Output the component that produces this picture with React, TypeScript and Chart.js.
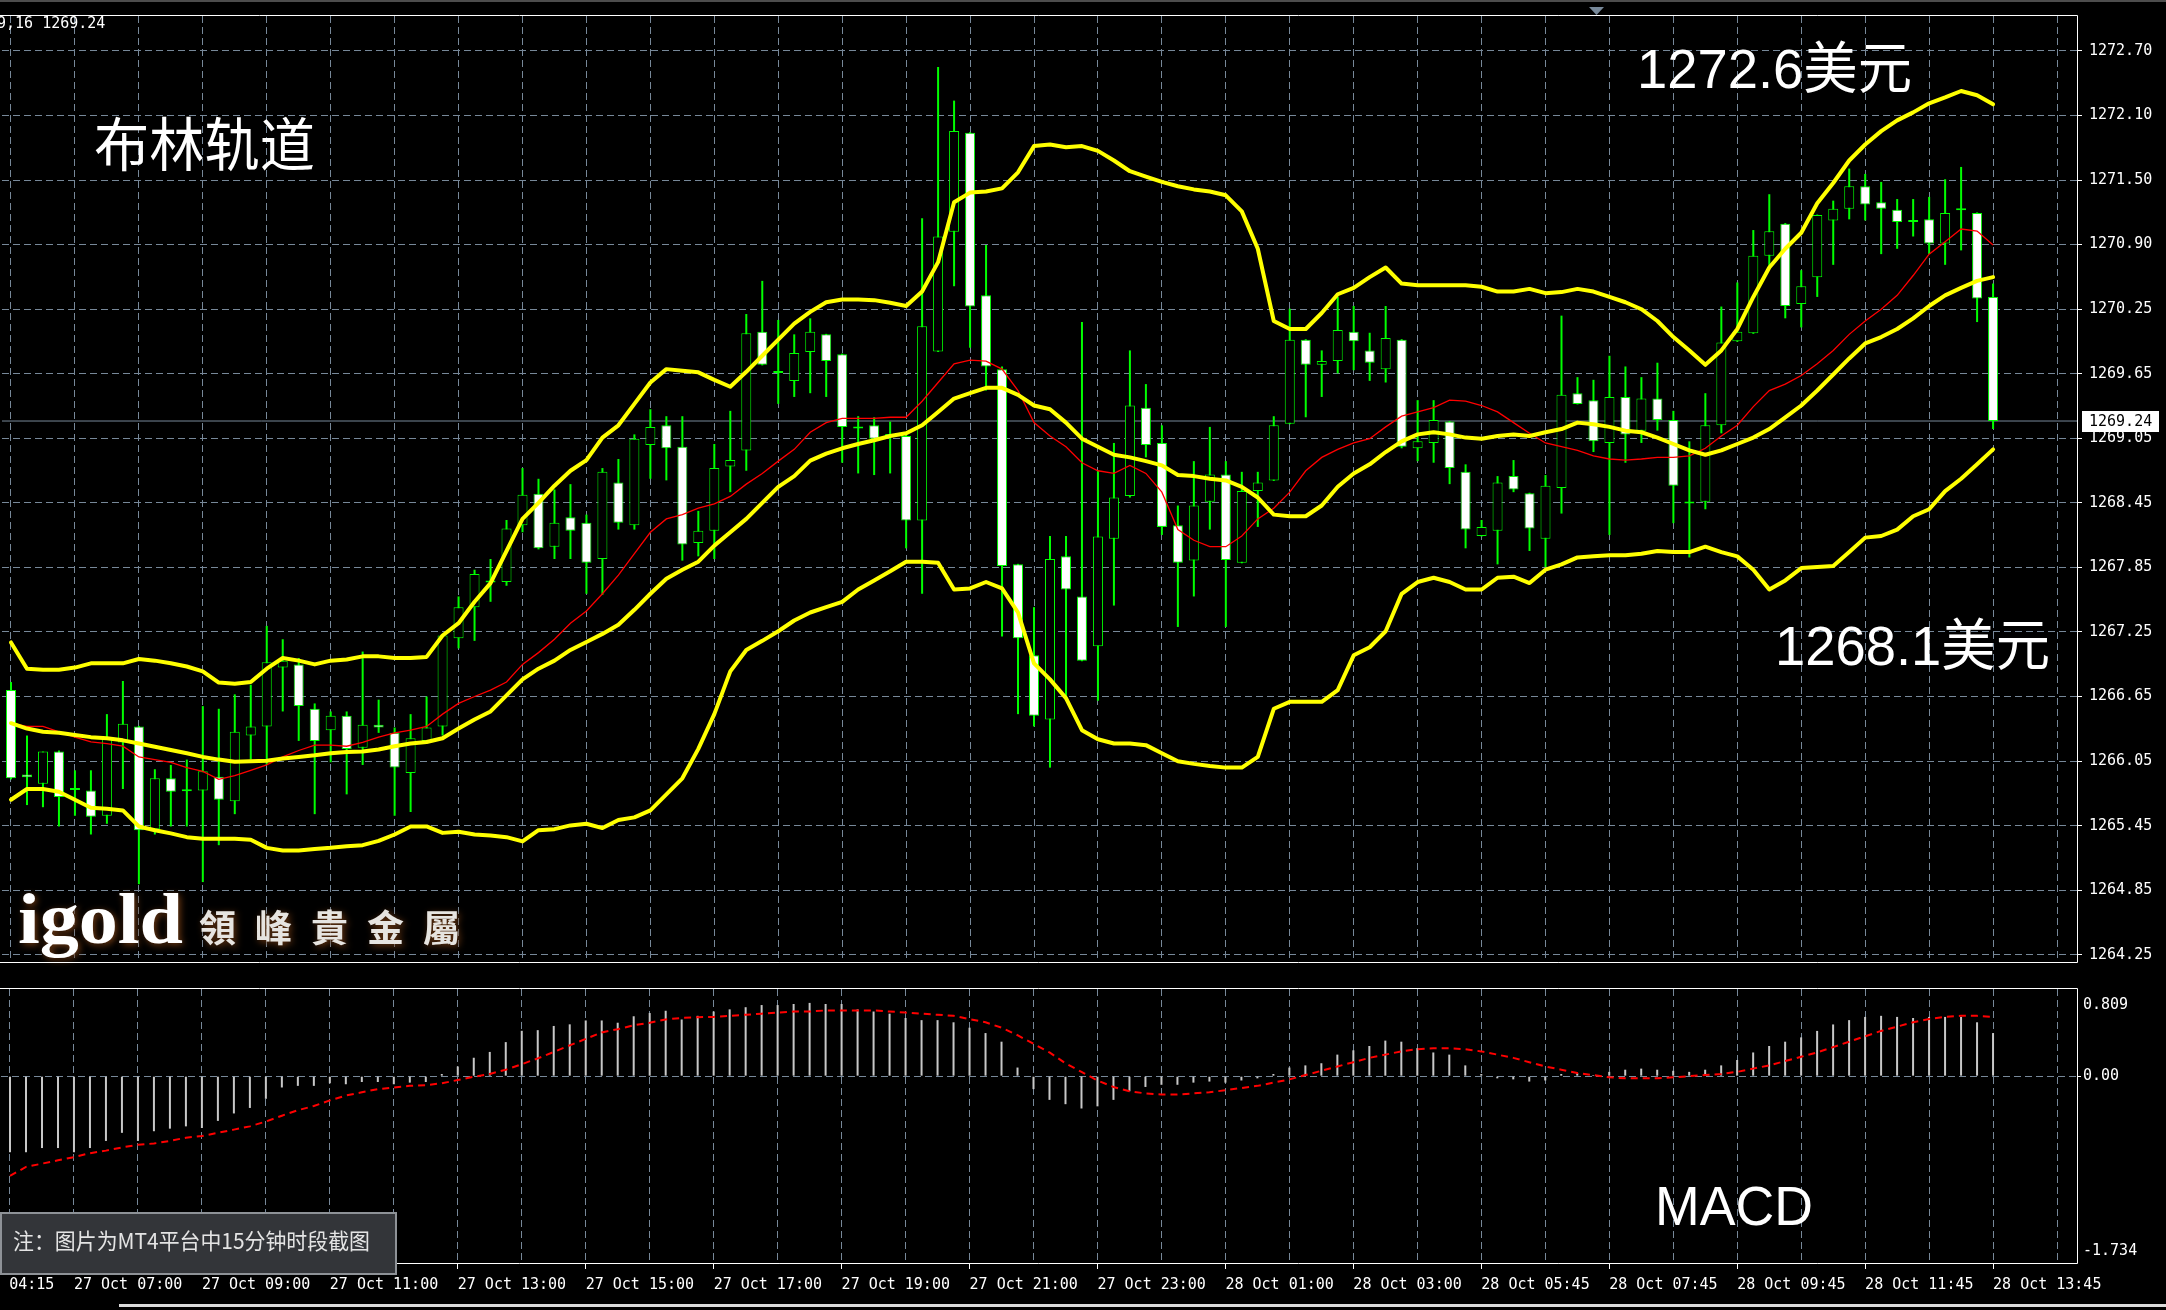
import React, { useEffect, useRef } from "react";
import { Chart, registerables } from "chart.js";

Chart.register(...registerables);

// ---------------- data (15-minute bars, left to right) ----------------
const OPEN = [
  1266.725, 1265.935, 1265.85, 1266.15, 1265.79, 1265.785, 1265.55, 1266.235, 1266.385, 1265.425,
  1265.90, 1265.785, 1265.785, 1265.915, 1265.685, 1266.30, 1266.385, 1266.935, 1266.965, 1266.55,
  1266.35, 1266.485, 1266.185, 1266.40, 1266.325, 1265.95, 1266.25, 1266.385, 1267.21, 1267.50,
  1267.73, 1267.735, 1268.265, 1268.56, 1268.065, 1268.34, 1268.29, 1267.95, 1268.665, 1268.265,
  1269.015, 1269.20, 1269.00, 1268.10, 1268.215, 1268.815, 1268.965, 1270.075, 1269.70, 1269.615,
  1269.885, 1270.05, 1269.865, 1269.17, 1269.20, 1269.10, 1269.10, 1268.31, 1269.89, 1271.01,
  1271.935, 1270.415, 1269.725, 1267.90, 1267.05, 1266.45, 1267.975, 1267.60, 1267.135, 1268.14,
  1268.54, 1269.365, 1269.035, 1268.265, 1267.935, 1268.485, 1268.74, 1267.915, 1268.585, 1268.685,
  1269.215, 1270.00, 1269.765, 1269.80, 1270.075, 1269.90, 1269.725, 1270.00, 1268.985, 1269.035,
  1269.235, 1268.765, 1268.165, 1268.215, 1268.725, 1268.565, 1268.14, 1268.615, 1269.50, 1269.435,
  1269.035, 1269.465, 1269.15, 1269.45, 1269.25, 1268.47, 1268.485, 1269.20, 1269.985, 1270.06,
  1270.785, 1271.085, 1270.335, 1270.585, 1271.115, 1271.225, 1271.435, 1271.285, 1271.215, 1271.10,
  1271.125, 1270.90, 1271.21, 1271.185, 1270.40,
];
const HIGH = [
  1266.80, 1266.30, 1266.15, 1266.16, 1265.975, 1265.975, 1266.50, 1266.81, 1266.39, 1265.985,
  1266.025, 1266.075, 1266.575, 1266.55, 1266.685, 1266.775, 1267.325, 1267.20, 1267.025, 1266.60,
  1266.525, 1266.525, 1267.085, 1266.635, 1266.375, 1266.50, 1266.665, 1267.25, 1267.60, 1267.85,
  1267.95, 1268.315, 1268.80, 1268.70, 1268.60, 1268.65, 1268.365, 1268.80, 1268.885, 1269.115,
  1269.35, 1269.285, 1269.285, 1268.40, 1269.025, 1269.335, 1270.24, 1270.55, 1270.185, 1270.05,
  1270.20, 1270.055, 1269.87, 1269.285, 1269.275, 1269.235, 1269.135, 1271.135, 1272.55, 1272.235,
  1271.94, 1270.885, 1269.75, 1267.905, 1267.50, 1268.165, 1268.165, 1270.165, 1268.775, 1269.035,
  1269.90, 1269.585, 1269.20, 1268.45, 1268.865, 1269.185, 1268.865, 1268.765, 1268.765, 1269.285,
  1270.29, 1270.005, 1269.90, 1270.40, 1270.315, 1270.065, 1270.315, 1270.005, 1269.435, 1269.435,
  1269.24, 1268.835, 1268.315, 1268.725, 1268.875, 1268.57, 1268.735, 1270.225, 1269.65, 1269.625,
  1269.85, 1269.75, 1269.65, 1269.785, 1269.335, 1269.05, 1269.50, 1270.31, 1270.535, 1271.025,
  1271.36, 1271.09, 1270.65, 1271.17, 1271.30, 1271.60, 1271.55, 1271.475, 1271.315, 1271.315,
  1271.335, 1271.50, 1271.615, 1271.19, 1270.525,
];
const LOW = [
  1265.89, 1265.65, 1265.63, 1265.45, 1265.55, 1265.375, 1265.475, 1265.80, 1264.91, 1265.375,
  1265.45, 1265.45, 1264.93, 1265.275, 1265.565, 1266.075, 1266.025, 1266.525, 1266.25, 1265.565,
  1266.05, 1265.75, 1266.025, 1266.325, 1265.55, 1265.585, 1266.24, 1266.30, 1267.115, 1267.185,
  1267.55, 1267.70, 1268.20, 1268.04, 1267.95, 1267.95, 1267.625, 1267.615, 1268.225, 1268.225,
  1268.70, 1268.685, 1267.935, 1267.975, 1267.95, 1268.575, 1268.775, 1269.76, 1269.40, 1269.465,
  1269.50, 1269.465, 1268.85, 1268.75, 1268.735, 1268.75, 1268.05, 1267.625, 1269.885, 1270.50,
  1269.925, 1269.525, 1267.225, 1266.50, 1266.385, 1266.00, 1266.65, 1266.995, 1266.625, 1267.515,
  1268.525, 1268.90, 1268.175, 1267.315, 1267.60, 1268.225, 1267.315, 1267.91, 1268.25, 1268.68,
  1269.21, 1269.275, 1269.465, 1269.685, 1269.715, 1269.615, 1269.60, 1268.985, 1268.865, 1268.85,
  1268.65, 1268.05, 1268.16, 1267.90, 1268.575, 1268.025, 1267.875, 1268.375, 1269.395, 1268.95,
  1268.175, 1268.85, 1269.035, 1269.15, 1268.285, 1267.965, 1268.415, 1269.125, 1269.98, 1270.055,
  1270.665, 1270.20, 1270.115, 1270.40, 1270.70, 1271.125, 1271.115, 1270.80, 1270.85, 1270.965,
  1270.80, 1270.70, 1270.835, 1270.165, 1269.165,
];
const CLOSE = [
  1265.90, 1265.91, 1266.15, 1265.725, 1265.80, 1265.54, 1266.285, 1266.41, 1265.415, 1265.90,
  1265.775, 1265.78, 1265.965, 1265.70, 1266.335, 1266.385, 1266.985, 1267.00, 1266.575, 1266.25,
  1266.485, 1266.175, 1266.40, 1266.375, 1266.00, 1266.275, 1266.375, 1267.235, 1267.50, 1267.81,
  1267.74, 1268.235, 1268.55, 1268.05, 1268.29, 1268.215, 1267.915, 1268.765, 1268.29, 1269.075,
  1269.185, 1268.985, 1268.085, 1268.215, 1268.80, 1268.875, 1270.06, 1269.765, 1269.69, 1269.875,
  1270.075, 1269.80, 1269.185, 1269.18, 1269.075, 1269.105, 1268.31, 1270.125, 1270.965, 1271.95,
  1270.31, 1269.75, 1267.885, 1267.21, 1266.485, 1267.95, 1267.665, 1267.00, 1268.16, 1268.525,
  1269.385, 1269.015, 1268.25, 1267.915, 1268.45, 1268.74, 1267.94, 1268.585, 1268.665, 1269.20,
  1270.00, 1269.765, 1269.80, 1270.09, 1269.985, 1269.785, 1270.015, 1269.00, 1269.05, 1269.25,
  1268.80, 1268.225, 1268.25, 1268.665, 1268.60, 1268.235, 1268.635, 1269.485, 1269.40, 1269.05,
  1269.465, 1269.115, 1269.45, 1269.25, 1268.635, 1268.48, 1269.20, 1269.975, 1270.075, 1270.785,
  1271.015, 1270.315, 1270.50, 1271.165, 1271.225, 1271.435, 1271.265, 1271.225, 1271.10, 1271.105,
  1270.90, 1271.185, 1271.215, 1270.385, 1269.24,
];
const BB_UPPER = [
  1267.17, 1266.925, 1266.915, 1266.915, 1266.935, 1266.975, 1266.975, 1266.975, 1267.015, 1267.0,
  1266.975, 1266.945, 1266.90, 1266.795, 1266.785, 1266.80, 1266.925, 1267.025, 1267.0, 1266.965,
  1267.0, 1267.01, 1267.04, 1267.04, 1267.025, 1267.025, 1267.035, 1267.235, 1267.35, 1267.55,
  1267.725, 1268.025, 1268.325, 1268.475, 1268.635, 1268.775, 1268.875, 1269.085, 1269.20, 1269.40,
  1269.60, 1269.725, 1269.71, 1269.695, 1269.625, 1269.56, 1269.70, 1269.85, 1270.0, 1270.15,
  1270.26, 1270.35, 1270.375, 1270.375, 1270.37, 1270.345, 1270.315, 1270.45, 1270.725, 1271.285,
  1271.375, 1271.385, 1271.415, 1271.565, 1271.81, 1271.825, 1271.80, 1271.81, 1271.765, 1271.675,
  1271.575, 1271.525, 1271.475, 1271.435, 1271.405, 1271.385, 1271.35, 1271.20, 1270.85, 1270.175,
  1270.10, 1270.10, 1270.25, 1270.425, 1270.485, 1270.585, 1270.675, 1270.525, 1270.51, 1270.51,
  1270.51, 1270.51, 1270.495, 1270.45, 1270.45, 1270.475, 1270.435, 1270.445, 1270.475, 1270.45,
  1270.40, 1270.35, 1270.285, 1270.175, 1270.025, 1269.90, 1269.765, 1269.90, 1270.10, 1270.40,
  1270.675, 1270.85, 1271.0, 1271.275, 1271.465, 1271.675, 1271.825, 1271.95, 1272.05, 1272.125,
  1272.21, 1272.265, 1272.325, 1272.285, 1272.20,
];
const BB_MIDDLE = [
  1266.415, 1266.365, 1266.335, 1266.325, 1266.305, 1266.285, 1266.275, 1266.255, 1266.225, 1266.195,
  1266.165, 1266.135, 1266.10, 1266.075, 1266.055, 1266.06, 1266.065, 1266.085, 1266.10, 1266.115,
  1266.135, 1266.145, 1266.15, 1266.17, 1266.20, 1266.225, 1266.24, 1266.275, 1266.365, 1266.45,
  1266.525, 1266.675, 1266.825, 1266.925, 1267.0, 1267.10, 1267.175, 1267.25, 1267.335, 1267.475,
  1267.625, 1267.765, 1267.85, 1267.925, 1268.075, 1268.20, 1268.325, 1268.475, 1268.625, 1268.725,
  1268.87, 1268.935, 1268.985, 1269.025, 1269.06, 1269.10, 1269.125, 1269.20, 1269.325, 1269.45,
  1269.50, 1269.55, 1269.55, 1269.485, 1269.385, 1269.35, 1269.225, 1269.075, 1269.0, 1268.925,
  1268.90, 1268.865, 1268.825, 1268.735, 1268.725, 1268.70, 1268.685, 1268.625, 1268.525, 1268.365,
  1268.35, 1268.35, 1268.45, 1268.625, 1268.75, 1268.835, 1268.95, 1269.05, 1269.115, 1269.135,
  1269.115, 1269.085, 1269.075, 1269.10, 1269.115, 1269.10, 1269.135, 1269.165, 1269.225, 1269.21,
  1269.185, 1269.15, 1269.135, 1269.085, 1269.025, 1268.965, 1268.925, 1268.965, 1269.025, 1269.085,
  1269.165, 1269.275, 1269.385, 1269.525, 1269.675, 1269.825, 1269.965, 1270.025, 1270.10, 1270.20,
  1270.315, 1270.415, 1270.485, 1270.55, 1270.585,
];
const BB_LOWER = [
  1265.70, 1265.80, 1265.80, 1265.775, 1265.70, 1265.625, 1265.615, 1265.60, 1265.45, 1265.415,
  1265.385, 1265.35, 1265.335, 1265.335, 1265.335, 1265.325, 1265.25, 1265.225, 1265.225, 1265.24,
  1265.25, 1265.265, 1265.275, 1265.315, 1265.375, 1265.45, 1265.45, 1265.39, 1265.40, 1265.375,
  1265.365, 1265.35, 1265.31, 1265.415, 1265.425, 1265.46, 1265.475, 1265.435, 1265.51, 1265.535,
  1265.60, 1265.75, 1265.90, 1266.175, 1266.50, 1266.90, 1267.10, 1267.185, 1267.275, 1267.375,
  1267.45, 1267.50, 1267.55, 1267.665, 1267.75, 1267.835, 1267.925, 1267.925, 1267.915, 1267.665,
  1267.675, 1267.735, 1267.675, 1267.45, 1266.975, 1266.825, 1266.65, 1266.35, 1266.265, 1266.225,
  1266.225, 1266.21, 1266.135, 1266.06, 1266.035, 1266.015, 1266.0, 1266.0, 1266.10, 1266.55,
  1266.615, 1266.615, 1266.615, 1266.725, 1267.05, 1267.125, 1267.275, 1267.625, 1267.735, 1267.775,
  1267.735, 1267.665, 1267.665, 1267.775, 1267.785, 1267.725, 1267.85, 1267.90, 1267.965, 1267.975,
  1267.985, 1267.985, 1268.0, 1268.025, 1268.015, 1268.015, 1268.065, 1268.015, 1267.975, 1267.85,
  1267.665, 1267.75, 1267.865, 1267.875, 1267.885, 1268.015, 1268.15, 1268.165, 1268.225, 1268.35,
  1268.415, 1268.585, 1268.70, 1268.835, 1268.975,
];
const MA_RED = [
  1266.415, 1266.385, 1266.385, 1266.335, 1266.285, 1266.24, 1266.225, 1266.20, 1266.10, 1266.075,
  1266.05, 1266.0, 1265.965, 1265.89, 1265.925, 1265.975, 1266.025, 1266.10, 1266.16, 1266.21,
  1266.21, 1266.20, 1266.235, 1266.285, 1266.325, 1266.35, 1266.385, 1266.50, 1266.60, 1266.665,
  1266.725, 1266.80, 1266.965, 1267.075, 1267.20, 1267.35, 1267.465, 1267.625, 1267.80, 1268.0,
  1268.20, 1268.325, 1268.365, 1268.425, 1268.465, 1268.535, 1268.65, 1268.75, 1268.865, 1268.975,
  1269.135, 1269.225, 1269.265, 1269.265, 1269.265, 1269.275, 1269.275, 1269.425, 1269.60, 1269.775,
  1269.81, 1269.80, 1269.725, 1269.525, 1269.225, 1269.10, 1269.0, 1268.85, 1268.775, 1268.75,
  1268.825, 1268.75, 1268.575, 1268.225, 1268.125, 1268.065, 1268.065, 1268.165, 1268.325, 1268.425,
  1268.575, 1268.775, 1268.90, 1268.975, 1269.035, 1269.075, 1269.185, 1269.285, 1269.325, 1269.365,
  1269.435, 1269.425, 1269.385, 1269.325, 1269.225, 1269.125, 1269.035, 1269.0, 1268.965, 1268.915,
  1268.885, 1268.875, 1268.885, 1268.90, 1268.90, 1268.915, 1268.985, 1269.10, 1269.20, 1269.375,
  1269.525, 1269.585, 1269.665, 1269.775, 1269.90, 1270.05, 1270.175, 1270.285, 1270.415, 1270.60,
  1270.80, 1270.915, 1271.035, 1271.015, 1270.885,
];
const MACD_HIST = [
  -0.706, -0.706, -0.667, -0.667, -0.706, -0.667, -0.601, -0.526, -0.601, -0.511,
  -0.487, -0.466, -0.481, -0.415, -0.346, -0.295, -0.21, -0.105, -0.09, -0.09,
  -0.066, -0.075, -0.054, -0.054, -0.075, -0.06, -0.054, 0.02, 0.09, 0.171,
  0.225, 0.316, 0.421, 0.427, 0.466, 0.481, 0.517, 0.517, 0.496, 0.556,
  0.586, 0.607, 0.526, 0.56, 0.6, 0.62, 0.64, 0.66, 0.66, 0.67,
  0.68, 0.67, 0.67, 0.62, 0.6, 0.58, 0.54, 0.52, 0.52, 0.5,
  0.45, 0.4, 0.32, 0.08, -0.12, -0.22, -0.26, -0.3, -0.28, -0.22,
  -0.14, -0.1, -0.08, -0.08, -0.06, -0.05, -0.06, -0.04, -0.02, 0.02,
  0.08, 0.1, 0.12, 0.2, 0.24, 0.28, 0.33, 0.32, 0.26, 0.22,
  0.2, 0.1, 0.02, -0.02, -0.03, -0.05, -0.04, 0.02, 0.03, 0.01,
  0.04, 0.06, 0.07, 0.06, 0.05, 0.04, 0.06, 0.1, 0.15, 0.22,
  0.28, 0.32, 0.36, 0.42, 0.48, 0.52, 0.55, 0.56, 0.55, 0.54,
  0.55, 0.55, 0.55, 0.5, 0.4,
];
const MACD_SIGNAL = [
  -0.926, -0.842, -0.812, -0.781, -0.751, -0.715, -0.691, -0.661, -0.637, -0.625,
  -0.601, -0.571, -0.556, -0.526, -0.496, -0.466, -0.421, -0.367, -0.316, -0.277,
  -0.225, -0.18, -0.15, -0.12, -0.105, -0.09, -0.084, -0.066, -0.036, -0.006,
  0.021, 0.06, 0.111, 0.165, 0.225, 0.286, 0.346, 0.406, 0.436, 0.472,
  0.496, 0.526, 0.541, 0.547, 0.55, 0.56, 0.57, 0.58, 0.59, 0.6,
  0.6, 0.61, 0.61, 0.61, 0.61, 0.6, 0.59, 0.58, 0.57, 0.56,
  0.53, 0.5, 0.45, 0.38, 0.3, 0.22, 0.12, 0.04, -0.04, -0.1,
  -0.14, -0.16, -0.17, -0.17, -0.16, -0.15, -0.13, -0.11, -0.09, -0.06,
  -0.03, 0.01, 0.05, 0.09, 0.13, 0.17, 0.2, 0.23, 0.25, 0.26,
  0.26, 0.25, 0.23, 0.2, 0.17, 0.13, 0.09, 0.06, 0.03, 0.01,
  -0.01, -0.02, -0.02, -0.02, -0.01, 0.0, 0.01, 0.02, 0.04, 0.07,
  0.1, 0.14, 0.18, 0.22, 0.27, 0.32, 0.37, 0.42, 0.46, 0.5,
  0.53, 0.55, 0.56, 0.56, 0.55,
];
const PRICE_TICK_LABELS = [
  "1272.70", "1272.10", "1271.50", "1270.90", "1270.25", "1269.65", "1269.05", "1268.45",
  "1267.85", "1267.25", "1266.65", "1266.05", "1265.45", "1264.85", "1264.25",
];
const TIME_LABELS = [
  "27 Oct 04:15", "27 Oct 07:00", "27 Oct 09:00", "27 Oct 11:00", "27 Oct 13:00", "27 Oct 15:00",
  "27 Oct 17:00", "27 Oct 19:00", "27 Oct 21:00", "27 Oct 23:00", "28 Oct 01:00", "28 Oct 03:00",
  "28 Oct 05:45", "28 Oct 07:45", "28 Oct 09:45", "28 Oct 11:45", "28 Oct 13:45",
];
const CURRENT_PRICE = 1269.24;
const PRICE_MIN = 1264.183;
const PRICE_MAX = 1273.026;
const MACD_MAX = 0.809;
const MACD_MIN = -1.734;
const MACD_ZERO_LABEL = "0.00";
const MACD_TOP_LABEL = "0.809";
const MACD_BOTTOM_LABEL = "-1.734";
const HEADER_TEXT = "9,16 1269.24";
const TITLE_TEXT = "布林轨道";
const UPPER_NOTE = "1272.6美元";
const LOWER_NOTE = "1268.1美元";
const MACD_TITLE = "MACD";
const FOOT_NOTE = "注：图片为MT4平台中15分钟时段截图";
const BRAND = "igold";
const BRAND_CN = "領峰貴金屬";

// ---------------- layout / style ----------------
const W = 2166;
const H = 1310;
const MAIN_H = 978;
const PLOT_RIGHT = 2077;
const AXIS_W = W - PLOT_RIGHT;
const BAR_PX = 16;
const FIRST_BAR_PX = 9;
const X_MIN = -FIRST_BAR_PX / BAR_PX;
const X_MAX = X_MIN + PLOT_RIGHT / BAR_PX;
const GRID = "#778899";
const DASH = [7, 4];
const LIME = "#00ff00";
const MONO = { family: "'DejaVu Sans Mono', monospace", size: 15 };
const MONO_STR = "15px 'DejaVu Sans Mono', monospace";

const IDX = OPEN.map((_, j) => j);
const topV = parseFloat(PRICE_TICK_LABELS[0]);
const botV = parseFloat(PRICE_TICK_LABELS[PRICE_TICK_LABELS.length - 1]);
const PRICE_TICK_VALUES = PRICE_TICK_LABELS.map(
  (_, k) => topV + ((botV - topV) * k) / (PRICE_TICK_LABELS.length - 1)
);
const GRID_TICKS: number[] = [];
for (let j = 0; j <= 128; j += 4) GRID_TICKS.push(j);
const TIME_TICKS: number[] = [-4, ...GRID_TICKS];
const timeLabel = (v: number) => {
  const k = (v + 4) / 8;
  return Number.isInteger(k) && k >= 0 && k < TIME_LABELS.length ? TIME_LABELS[k] : "";
};
const series = (arr: number[]) => arr.map((y, j) => ({ x: j, y }));

function fitText(ctx: CanvasRenderingContext2D, text: string, x: number, baseline: number, width: number, font: string, color: string) {
  ctx.save();
  ctx.font = font;
  ctx.fillStyle = color;
  ctx.textAlign = "left";
  ctx.textBaseline = "alphabetic";
  const w = ctx.measureText(text).width || width;
  ctx.translate(x, baseline);
  ctx.scale(width / w, 1);
  ctx.fillText(text, 0, 0);
  ctx.restore();
}

const mainDecor = {
  id: "mainDecor",
  beforeDatasetsDraw(chart: any) {
    const ctx: CanvasRenderingContext2D = chart.ctx;
    ctx.save();
    ctx.shadowColor = "rgba(115, 60, 20, 0.95)";
    ctx.shadowBlur = 7;
    ctx.shadowOffsetX = 2;
    ctx.shadowOffsetY = 2;
    fitText(ctx, BRAND, 18, 943, 165, "bold 72px 'Liberation Serif', serif", "#ffffff");
    ctx.font = "bold 37px 'Noto Sans CJK TC', sans-serif";
    ctx.fillStyle = "#e6e4e0";
    ctx.textAlign = "left";
    ctx.textBaseline = "alphabetic";
    (ctx as any).letterSpacing = "19px";
    ctx.fillText(BRAND_CN, 199, 942);
    ctx.restore();
  },
  afterDraw(chart: any) {
    const ctx: CanvasRenderingContext2D = chart.ctx;
    const a = chart.chartArea;
    const y = chart.scales.y;
    ctx.save();
    ctx.fillStyle = "#4d4d4d";
    ctx.fillRect(0, 0, W, 2);
    ctx.strokeStyle = "#ffffff";
    ctx.lineWidth = 1;
    ctx.setLineDash([]);
    ctx.beginPath();
    ctx.moveTo(0, a.top - 0.5);
    ctx.lineTo(a.right + 0.5, a.top - 0.5);
    ctx.lineTo(a.right + 0.5, a.bottom + 0.5);
    ctx.lineTo(0, a.bottom + 0.5);
    ctx.stroke();
    // chart-shift marker
    ctx.fillStyle = GRID;
    ctx.beginPath();
    ctx.moveTo(1589, 7);
    ctx.lineTo(1604, 7);
    ctx.lineTo(1596.5, 15);
    ctx.closePath();
    ctx.fill();
    // current price box
    const py = Math.round(y.getPixelForValue(CURRENT_PRICE));
    ctx.fillStyle = "#ffffff";
    ctx.fillRect(a.right + 5, py - 10, 77, 21);
    ctx.fillStyle = "#000000";
    ctx.font = MONO_STR;
    ctx.textAlign = "left";
    ctx.textBaseline = "middle";
    ctx.fillText(CURRENT_PRICE.toFixed(2), a.right + 12, py + 1);
    // header
    ctx.fillStyle = "#ffffff";
    ctx.fillText(HEADER_TEXT, -3, 24);
    ctx.restore();
    fitText(ctx, TITLE_TEXT, 94, 166, 221, "58px 'Noto Sans CJK SC', sans-serif", "#ffffff");
    fitText(ctx, UPPER_NOTE, 1637, 88, 275, "56px 'Liberation Sans', 'Noto Sans CJK SC', sans-serif", "#ffffff");
    fitText(ctx, LOWER_NOTE, 1775, 665, 275, "56px 'Liberation Sans', 'Noto Sans CJK SC', sans-serif", "#ffffff");
  },
};

const macdDecor = {
  id: "macdDecor",
  afterDraw(chart: any) {
    const ctx: CanvasRenderingContext2D = chart.ctx;
    const a = chart.chartArea;
    ctx.save();
    ctx.strokeStyle = "#ffffff";
    ctx.lineWidth = 1;
    ctx.setLineDash([]);
    ctx.beginPath();
    ctx.moveTo(0, a.top - 0.5);
    ctx.lineTo(a.right + 0.5, a.top - 0.5);
    ctx.lineTo(a.right + 0.5, a.bottom + 0.5);
    ctx.lineTo(0, a.bottom + 0.5);
    ctx.stroke();
    ctx.fillStyle = "#ffffff";
    ctx.font = MONO_STR;
    ctx.textAlign = "left";
    ctx.textBaseline = "alphabetic";
    ctx.fillText(MACD_TOP_LABEL, a.right + 6, a.top + 20);
    ctx.fillText(MACD_BOTTOM_LABEL, a.right + 6, a.bottom - 8);
    // bottom window strip
    ctx.fillStyle = "#dcdcdc";
    ctx.fillRect(119, 326, W - 119, 3);
    // note box
    ctx.fillStyle = "#333539";
    ctx.fillRect(0, 234, 397, 63);
    ctx.strokeStyle = "#8e9297";
    ctx.lineWidth = 2;
    ctx.strokeRect(1, 235, 395, 61);
    ctx.restore();
    fitText(ctx, FOOT_NOTE, 13, 271, 357, "22px 'Noto Sans CJK SC', sans-serif", "#e4e4e4");
    fitText(ctx, MACD_TITLE, 1655, 247, 158, "56px 'Liberation Sans', sans-serif", "#ffffff");
  },
};

function mainConfig(): any {
  const bodyFill = IDX.map((j) => (CLOSE[j] < OPEN[j] ? "#ffffff" : "#000000"));
  const bandLine = (arr: number[], label: string) => ({
    type: "line",
    label,
    data: series(arr),
    borderColor: "#ffff00",
    borderWidth: 4,
    borderJoinStyle: "round",
    borderCapStyle: "round",
    pointRadius: 0,
    order: 0,
  });
  return {
    type: "bar",
    data: {
      datasets: [
        bandLine(BB_UPPER, "upper"),
        bandLine(BB_MIDDLE, "middle"),
        bandLine(BB_LOWER, "lower"),
        {
          type: "line",
          label: "ma",
          data: series(MA_RED),
          borderColor: "#ff0000",
          borderWidth: 1.3,
          pointRadius: 0,
          order: 1,
        },
        {
          type: "bar",
          label: "body",
          data: IDX.map((j) => ({ x: j, y: [OPEN[j], CLOSE[j]] })),
          backgroundColor: bodyFill,
          borderColor: LIME,
          borderWidth: 1,
          borderSkipped: false,
          barThickness: 10,
          minBarLength: 2,
          grouped: false,
          inflateAmount: 0,
          order: 3,
        },
        {
          type: "bar",
          label: "wick",
          data: IDX.map((j) => ({ x: j, y: [LOW[j], HIGH[j]] })),
          backgroundColor: LIME,
          borderWidth: 0,
          barThickness: 2,
          grouped: false,
          inflateAmount: 0,
          order: 4,
        },
        {
          type: "line",
          label: "bid",
          data: [
            { x: X_MIN, y: CURRENT_PRICE },
            { x: X_MAX, y: CURRENT_PRICE },
          ],
          borderColor: GRID,
          borderWidth: 1,
          pointRadius: 0,
          order: 5,
        },
      ],
    },
    options: {
      responsive: false,
      animation: false,
      devicePixelRatio: 1,
      events: [],
      layout: { padding: { left: 0, right: 0, top: 7, bottom: 1 } },
      plugins: { legend: { display: false }, tooltip: { enabled: false } },
      scales: {
        x: {
          type: "linear",
          min: X_MIN,
          max: X_MAX,
          bounds: "data",
          offset: false,
          position: "bottom",
          afterBuildTicks: (s: any) => {
            s.ticks = GRID_TICKS.map((v) => ({ value: v }));
          },
          afterFit: (s: any) => {
            s.height = 0;
            s.paddingLeft = 0;
            s.paddingRight = 0;
          },
          ticks: { display: false },
          grid: { color: GRID, lineWidth: 1, drawTicks: false, offset: false },
          border: { display: false, dash: DASH },
        },
        y: {
          type: "linear",
          position: "right",
          min: PRICE_MIN,
          max: PRICE_MAX,
          bounds: "data",
          afterBuildTicks: (s: any) => {
            s.ticks = PRICE_TICK_VALUES.map((v) => ({ value: v }));
          },
          afterFit: (s: any) => {
            s.width = AXIS_W;
          },
          ticks: {
            autoSkip: false,
            color: "#ffffff",
            font: MONO,
            padding: 7,
            callback: (_v: any, i: number) => PRICE_TICK_LABELS[i],
          },
          grid: { color: GRID, lineWidth: 1, tickLength: 5, tickColor: "#ffffff", drawTicks: true },
          border: { display: false, dash: DASH },
        },
      },
    },
    plugins: [mainDecor],
  };
}

function macdConfig(): any {
  return {
    type: "bar",
    data: {
      datasets: [
        {
          type: "line",
          label: "signal",
          data: series(MACD_SIGNAL),
          borderColor: "#ff0000",
          borderWidth: 2,
          borderDash: [7, 5],
          pointRadius: 0,
          order: 0,
        },
        {
          type: "bar",
          label: "macd",
          data: series(MACD_HIST),
          backgroundColor: "#c8c8c8",
          borderWidth: 0,
          barThickness: 2,
          grouped: false,
          inflateAmount: 0,
          order: 1,
        },
      ],
    },
    options: {
      responsive: false,
      animation: false,
      devicePixelRatio: 1,
      events: [],
      layout: { padding: { left: 0, right: 0, top: 3, bottom: 0 } },
      plugins: { legend: { display: false }, tooltip: { enabled: false } },
      scales: {
        x: {
          type: "linear",
          min: X_MIN,
          max: X_MAX,
          bounds: "data",
          offset: false,
          position: "bottom",
          afterBuildTicks: (s: any) => {
            s.ticks = TIME_TICKS.map((v) => ({ value: v }));
          },
          afterFit: (s: any) => {
            s.height = 47;
            s.paddingLeft = 0;
            s.paddingRight = 0;
          },
          ticks: {
            autoSkip: false,
            maxRotation: 0,
            minRotation: 0,
            align: "start",
            color: "#ffffff",
            font: MONO,
            padding: 7,
            callback: (v: any) => timeLabel(Number(v)),
          },
          grid: {
            color: GRID,
            lineWidth: 1,
            offset: false,
            drawTicks: true,
            tickLength: 6,
            tickColor: (c: any) => (c.tick && timeLabel(c.tick.value) ? "#ffffff" : "rgba(0,0,0,0)"),
          },
          border: { display: false, dash: DASH },
        },
        y: {
          type: "linear",
          position: "right",
          min: MACD_MIN,
          max: MACD_MAX,
          bounds: "data",
          afterBuildTicks: (s: any) => {
            s.ticks = [{ value: 0 }];
          },
          afterFit: (s: any) => {
            s.width = AXIS_W;
          },
          ticks: { color: "#ffffff", font: MONO, padding: 2, callback: () => MACD_ZERO_LABEL },
          grid: { color: GRID, lineWidth: 1, tickLength: 4, tickColor: "#ffffff" },
          border: { display: false, dash: DASH },
        },
      },
    },
    plugins: [macdDecor],
  };
}

export default function App() {
  const mainRef = useRef<HTMLCanvasElement>(null);
  const macdRef = useRef<HTMLCanvasElement>(null);

  useEffect(() => {
    document.body.style.margin = "0";
    document.body.style.background = "#000";
    const main = new Chart(mainRef.current as HTMLCanvasElement, mainConfig());
    const macd = new Chart(macdRef.current as HTMLCanvasElement, macdConfig());
    let alive = true;
    const fonts = [
      "15px 'DejaVu Sans Mono'",
      "56px 'Liberation Sans'",
      "bold 72px 'Liberation Serif'",
      "58px 'Noto Sans CJK SC'",
      "bold 37px 'Noto Sans CJK TC'",
    ];
    Promise.all(fonts.map((f) => (document as any).fonts.load(f, "布林轨道領峰1").catch(() => null))).then(() => {
      if (alive) {
        main.update();
        macd.update();
      }
    });
    return () => {
      alive = false;
      main.destroy();
      macd.destroy();
    };
  }, []);

  return (
    <div style={{ position: "fixed", left: 0, top: 0, width: W, height: H, background: "#000", overflow: "hidden" }}>
      <canvas
        ref={mainRef}
        width={W}
        height={MAIN_H}
        style={{ position: "absolute", left: 0, top: 0, width: W, height: MAIN_H, display: "block" }}
      />
      <canvas
        ref={macdRef}
        width={W}
        height={H - MAIN_H}
        style={{ position: "absolute", left: 0, top: MAIN_H, width: W, height: H - MAIN_H, display: "block" }}
      />
    </div>
  );
}
